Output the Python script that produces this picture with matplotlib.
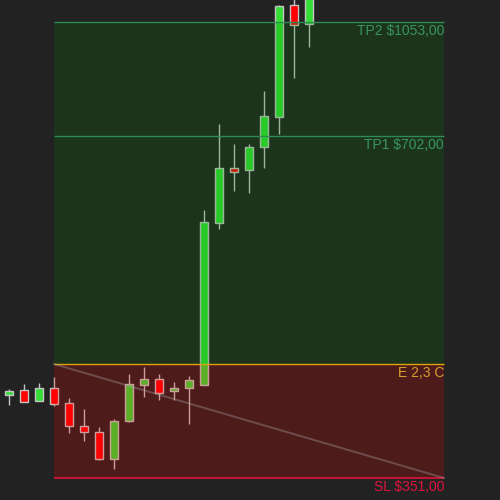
import matplotlib
matplotlib.use("Agg")
import matplotlib.pyplot as plt
from matplotlib.patches import Rectangle

# Candle data (index order)
opens  = [435.7, 441.0, 430.3, 443.1, 427.7, 404.4, 398.2, 370.8, 409.8, 446.8, 452.6,
          440.6, 443.7, 446.1, 613.0, 668.8, 667.4, 691.0, 721.8, 836.4, 816.6]
closes = [440.3, 429.3, 443.1, 427.3, 404.7, 398.5, 370.8, 409.5, 447.5, 452.6, 438.5,
          443.4, 451.6, 613.7, 668.8, 665.4, 690.7, 722.5, 835.4, 815.6, 860.0]
highs  = [442.3, 447.5, 448.5, 454.7, 433.1, 421.8, 403.3, 411.6, 457.7, 464.9, 457.7,
          449.5, 455.7, 626.0, 714.3, 693.8, 693.8, 748.2, 836.4, 850.0, 870.0]
lows   = [426.2, 428.5, 430.3, 425.2, 397.2, 389.3, 369.5, 360.5, 408.5, 434.4, 431.1,
          431.1, 406.4, 446.1, 606.9, 645.9, 643.8, 669.5, 704.4, 761.8, 793.6]

# Trade levels (plot positions) and their labels
level_sl, level_entry, level_tp1, level_tp2 = 351.0, 468.0, 702.0, 819.0
label_sl = "SL $351,00"
label_entry = "E 2,3 C"
label_tp1 = "TP1 $702,00"
label_tp2 = "TP2 $1053,00"
zone_start, zone_end = 3, 29

BG = "#222222"
UP = "#33dd33"
DOWN = "#ff0000"
EDGE = "#c4c4c4"

fig = plt.figure(figsize=(5, 5), dpi=100, facecolor=BG)
ax = fig.add_axes([0, 0, 1, 1])
ax.set_facecolor(BG)
for s in ax.spines.values():
    s.set_visible(False)
ax.set_xticks([])
ax.set_yticks([])

w = 0.56
for i, (o, c, h, l) in enumerate(zip(opens, closes, highs, lows)):
    col = UP if c >= o else DOWN
    ax.vlines(i, l, h, color=EDGE, lw=1, zorder=2)
    ax.add_patch(Rectangle((i - w / 2, min(o, c)), w, abs(c - o), facecolor=col,
                           edgecolor=EDGE, lw=1, zorder=3))

# zones (semi-transparent overlays)
ax.add_patch(Rectangle((zone_start, level_entry), zone_end - zone_start, level_tp2 - level_entry,
                       facecolor=(0, 0.5, 0), alpha=0.2, lw=0, zorder=4))
ax.add_patch(Rectangle((zone_start, level_sl), zone_end - zone_start, level_entry - level_sl,
                       facecolor=(1, 0, 0), alpha=0.2, lw=0, zorder=4))

# level lines
ax.hlines([level_tp2, level_tp1], zone_start, zone_end, color="#2e8b57", lw=1, zorder=5)
ax.hlines(level_entry, zone_start, zone_end, color="#e0a010", lw=1, zorder=5)
ax.hlines(level_sl, zone_start, zone_end, color="#dc143c", lw=1.2, zorder=5)

# diagonal
ax.plot([zone_start, zone_end], [level_entry, level_sl], color="#aaaaaa", alpha=0.35,
        lw=1.4, zorder=5)

fs = 10
off = -2.0
kw = dict(ha="right", va="top", fontsize=fs, family="Liberation Sans", zorder=6)
ax.text(zone_end, level_tp2 + off, label_tp2, color="#3a9560", **kw)
ax.text(zone_end, level_tp1 + off, label_tp1, color="#3a9560", **kw)
ax.text(zone_end, level_entry + off, label_entry, color="#d9a030", **kw)
ax.text(zone_end, level_sl + off, label_sl, color="#e0143c", **kw)

ax.set_xlim(-0.6, 32.733)
ax.set_ylim(328.4, 841.6)

fig.savefig("out.png", dpi=100, facecolor=BG)
